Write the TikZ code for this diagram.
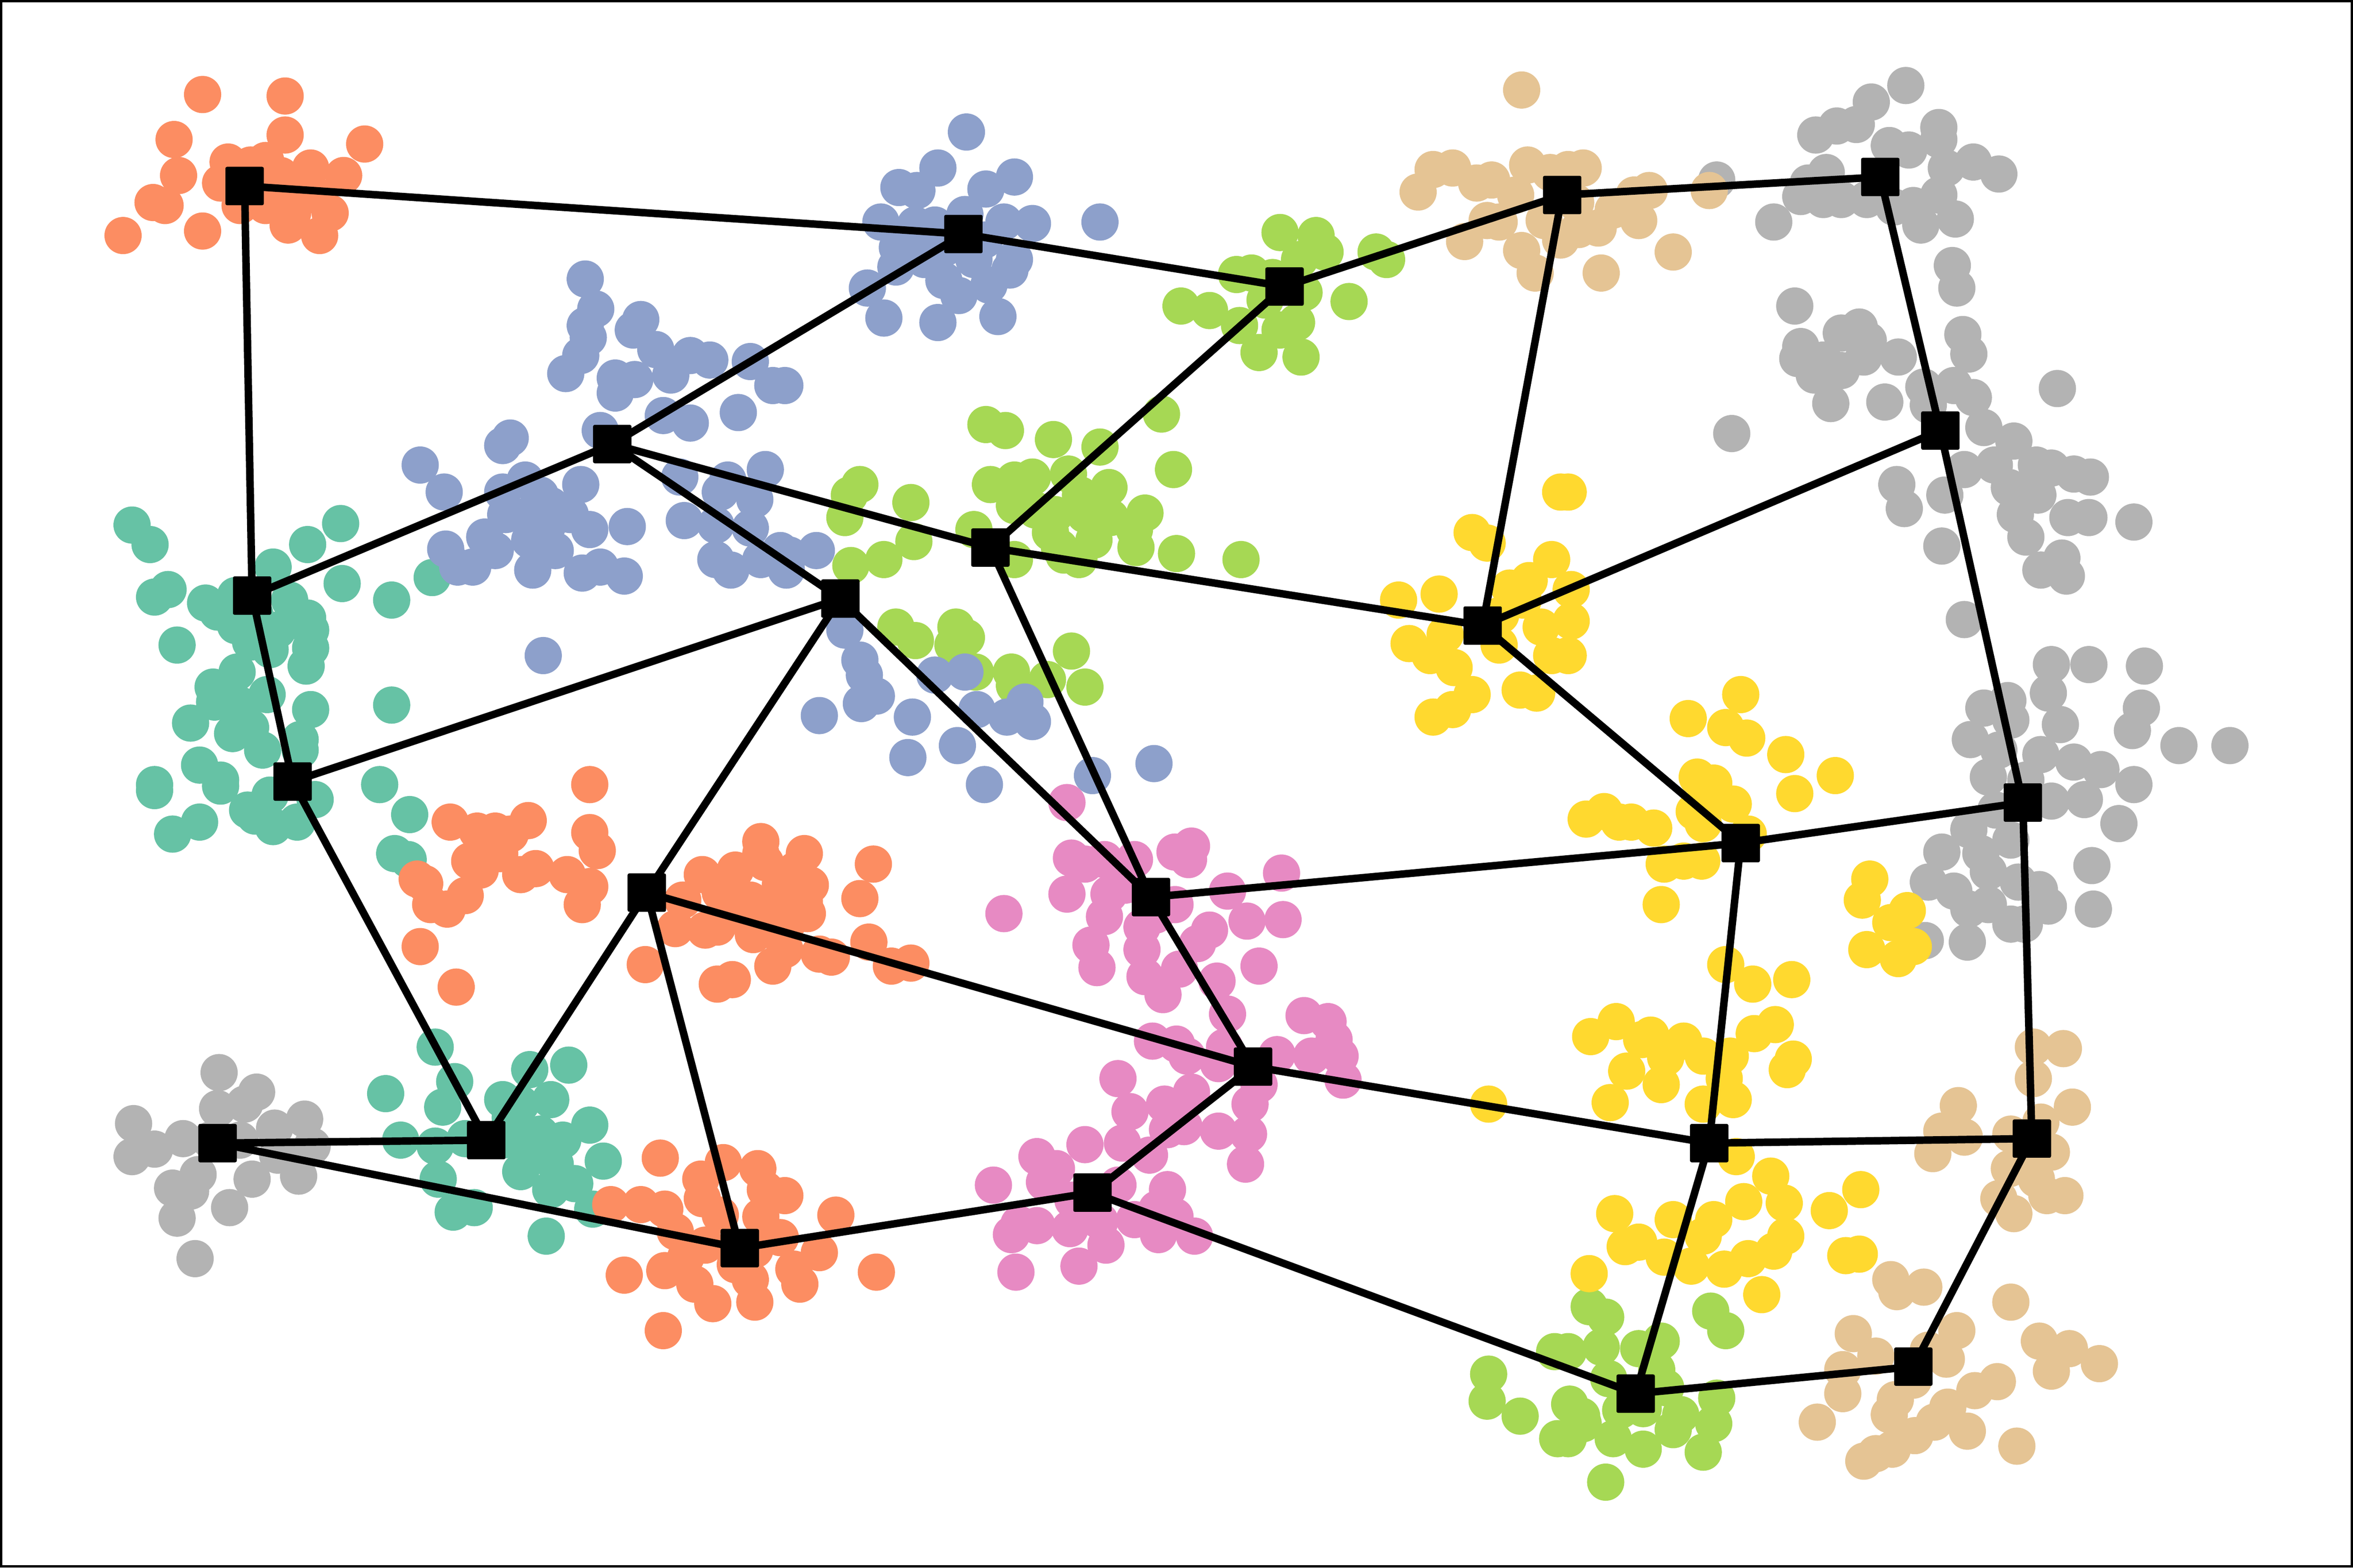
\documentclass[tikz,border=0pt]{standalone}
\usepackage{tikz}
\definecolor{cteal}{HTML}{66C2A5}
\definecolor{corange}{HTML}{FC8D62}
\definecolor{cblue}{HTML}{8DA0CB}
\definecolor{cpink}{HTML}{E78AC3}
\definecolor{cgreen}{HTML}{A6D854}
\definecolor{cyellow}{HTML}{FFD92F}
\definecolor{ctan}{HTML}{E5C494}
\definecolor{cgray}{HTML}{B3B3B3}
\tikzset{
  sq/.style={fill=black, draw=none, minimum size=0.255cm, inner sep=0pt, outer sep=0pt, rounded corners=0.3pt},
  edge/.style={draw=black, line width=0.05cm, line cap=butt},
}
\newcommand{\clusterdots}[2]{\foreach \x/\y in {#2} \fill[#1] (\x,\y) circle[radius=0.124cm];}
\begin{document}
\begin{tikzpicture}[x=0.01cm,y=-0.01cm]
\useasboundingbox (0,0) rectangle (1568,1045);
\fill[white] (0,0) rectangle (1568,1045);
% gray clusters
\clusterdots{cgray}{146/715,171/728,163/736,145/739,89/749,88/771,103/766,122/759,183/752,203/746,208/764,199/784,168/786,132/783,115/792,127/794,153/805,118/812,130/839,140/760,160/760,185/770}
\clusterdots{cgray}{1144/120,1270/57,1247/68,1237/83,1224/84,1210/90,1292/85,1292/93,1259/97,1272/100,1315/108,1332/116,1297/112,1217/115,1205/122,1200/131,1215/133,1227/133,1244/133,1292/130,1275/137,1262/138,1303/146,1280/150,1182/148,1301/177,1304/192,1196/204,1308/223,1312/236,1239/218,1227/222,1245/227,1200/231,1198/239,1215/240,1227/247,1242/238,1209/250,1220/269,1256/268,1265/238,1371/259,1154/289,1282/258,1302/257,1315/265,1285/270,1322/285,1342/294,1329/310,1357/310,1367/312,1382/316,1393/318,1339/325,1358/330,1378/345,1392/345,1422/348,1343/343,1350/358,1374/372,1360/380,1377/384,1264/323,1269/339,1296/330,1309/313,1294/364,1309/413,1367/443,1392/443,1429/444,1365/462,1338/467,1322/472,1373/483,1427/472,1421/487,1452/497,1486/497,1313/493,1332/500,1360/503,1382/508,1400/513,1325/518,1422/523,1340/480,1350/520,1367/534,1389/533,1412/549,1312/553,1294/568,1320/569,1285/588,1302/594,1325/581,1345/588,1359/593,1365/604,1312/606,1325/603,1340/616,1349/616,1283/627,1311/628,1394/577,1395/606,1340/560,1330/540}
% tan clusters
\clusterdots{ctan}{1014/60,955/113,968/112,984/122,994/120,1018/110,1033/115,945/128,976/161,991/147,999/148,1014/167,1023/182,1029/147,1045/113,1055/112,1089/130,1099/127,1092/147,1065/152,1052/153,1067/182,1115/168,1139/127,1010/130,1050/135,1075/140,1040/160}
\clusterdots{ctan}{1355/698,1375/699,1355/719,1381/738,1360/748,1305/737,1294/754,1309/758,1288/769,1340/756,1367/768,1339/779,1357/786,1332/799,1364/797,1376/797,1342/809,1350/770}
\clusterdots{ctan}{1260/853,1264/861,1282/858,1340/868,1235/889,1304/887,1250/904,1228/913,1297/906,1359/894,1379/899,1399/909,1367/914,1331/921,1316/927,1228/929,1263/933,1298/938,1259/943,1289/948,1211/948,1311/954,1276/957,1261/966,1250/969,1242/974,1344/964,1275/920,1285/900}
% teal
\clusterdots{cteal}{88/350,100/363,227/349,205/363,182/378,228/389,261/400,288/385,103/398,112/393,137/402,145/408,157/397,193/400,205/412,207/420,207/432,204/444,157/417,167/428,180/433,118/430,158/448,142/458,143/468,127/482,178/463,207/473,261/470,155/489,167/485,175/500,200/493,200/500,133/510,147/520,103/523,253/523,103/527,147/524,115/556,133/548,170/544,182/551,198/548,210/533,273/543,263/569,272/573,170/410,185/420,160/470,180/530,165/540}
\clusterdots{cteal}{290/698,303/721,295/738,257/729,353/713,379/710,335/733,347/736,367/733,393/750,402/774,267/760,290/764,310/759,292/786,302/808,316/805,343/756,360/756,370/776,347/781,367/793,383/789,395/806,364/824,335/760,355/770,340/745,375/760}
% orange
\clusterdots{corange}{135/63,190/64,116/93,190/90,243/96,152/108,119/117,207/112,229/117,177/107,147/122,102/135,110/137,82/157,135/154,177/137,192/150,213/157,220/142,200/127,187/117,167/110,190/130,210/130,175/127,195/142,160/137}
\clusterdots{corange}{393/523,300/548,318/554,330/554,340/556,352/547,313/574,333/569,347/583,357/579,378/583,393/555,398/567,393/591,388/603,278/586,283/589,298/606,310/597,287/603,280/631,304/658,320/580}
\clusterdots{corange}{507/561,468/583,490/580,507/569,450/619,430/643,478/618,502/623,515/644,478/656,488/653,536/569,582/576,573/599,536/601,538/609,523/633,546/636,554/638,579/628,594/644,607/642,510/575,530/580,520/600,500/600,455/600,470/620,490/610,510/615,520/590,540/590,525/615,480/595}
\clusterdots{corange}{440/772,482/775,505/779,467/786,468/799,407/803,427/803,443/806,450/821,457/838,510/793,507/811,503/833,490/843,500/853,443/847,463/856,475/869,503/868,416/850,442/887,523/797,557/810,546/835,533/856,584/848,529/846,480/810,470/830,520/825}
% green
\clusterdots{cgreen}{853/155,877/157,883/168,917/168,924/173,824/183,834/182,866/173,869/195,899/201,787/204,806/207,843/200,826/217,864/215,839/235,867/238,853/220,848/185}
\clusterdots{cgreen}{657/283,670/287,702/293,733/298,774/276,782/313,573/323,566/330,607/335,563/345,660/323,676/320,688/318,712/316,739/325,676/337,703/343,723/343,763/342,756/353,729/360,706/365,649/353,609/361,589/373,567/377,676/373,709/370,719/373,757/365,784/369,827/373,690/340,720/330,740/345,700/355}
\clusterdots{cgreen}{597/418,610/427,637/418,644/425,650/448,674/448,676/457,698/453,714/434,723/458,635/430}
\clusterdots{cgreen}{1059/871,1070/878,1045/901,1067/898,1107/894,1092/899,1140/874,1150/887,1072/919,1104/913,1054/944,1045/959,1055/949,1075/959,1095/966,1115/953,1120/943,1142/949,1144/932,1135/968,1070/988,1095/939,1036/901,992/916,991/934,1013/944,1038/959,1046/936,1080/940,1110/925}
% blue
\clusterdots{cblue}{644/88,625/112,676/118,657/126,599/125,611/127,587/148,688/149,669/148,733/148,598/165,597/178,578/192,589/212,625/215,665/211,629/187,639/197,659/190,673/180,676/173,623/150,643/143,656/160,616/173,649/173,630/165,610/150}
\clusterdots{cblue}{390/186,397/206,390/217,392/225,387/237,377/249,427/213,422/220,437/233,460/237,473/240,500/241,515/257,492/275,410/252,410/262,423/253,442/277,460/282,400/287,447/250,340/292,335/297,280/310,296/328,335/328,350/320,387/323,367/337,353/343,337/343,380/343,393/353,418/351,323/358,297/366,305/378,315/378,330/367,353/360,355/380,370/367,388/382,400/378,416/384,362/437,453/318,485/320,510/313,480/328,503/333,456/347,477/350,500/352,477/373,487/380,507/373,520/367,360/330,365/350}
\clusterdots{cblue}{563/420,573/440,576/450,574/469,584/464,546/477,608/478,605/505,623/450,643/448,651/473,638/497,671/478,683/468,688/481,656/523,728/517,769/509,526/370,544/367,523/257,524/380}
% pink
\clusterdots{cpink}{711/535,714/572,723/576,736/573,756/573,783/568,794/564,792/573,711/596,669/609,739/596,736/611,761/618,783/603,818/594,854/582,831/614,855/613,806/620,798/629,727/630,731/645,761/633,786/646,763/651,775/663,811/654,839/644,818/676,869/677,885/681,889/693,893/704,895/720,874/704,851/703,816/698,768/694,784/696,791/704,812/709,839/723,833/736,745/719,794/728,776/736,753/741,778/753,789/751,812/754,832/756,830/776,748/762,723/763,766/770,691/771,704/779,662/790,696/788,778/793,771/806,783/811,756/813,733/814,679/816,691/817,674/823,713/819,772/823,796/824,737/830,677/848,719/844,750/590,770/610,745/790,715/800}
% yellow
\clusterdots{cyellow}{1040/328,981/355,991/362,1034/373,1019/387,1006/392,932/400,959/396,939/429,953/437,969/445,981/463,968/473,955/478,1013/460,1024/462,1027/418,1034/437,999/430,963/423,1045/328,1047/393,1047/414,1045/437,1000/410,1015/400}
\clusterdots{cyellow}{1160/463,1125/479,1150/485,1164/492,1190/503,1223/517,1131/518,1142/522,1196/529,1137/529,1155/536,1129/541,1057/546,1069/541,1079/548,1087/548,1102/552,1135/549,1165/556,1109/576,1122/574,1134/574,1107/603,1246/586,1241/600,1271/607,1260/615,1244/633,1265/639,1275/631}
\clusterdots{cyellow}{992/736,1150/643,1168/656,1194/653,1060/691,1077/681,1094/693,1084/714,1107/723,1122/694,1135/704,1153/704,1149/719,1135/736,1155/733,1073/735,1169/689,1183/683,1195/706,1191/713,1157/771,1180/784,1162/801,1189/802,1076/809,1115/813,1142/813,1219/807,1240/793,1083/831,1092/828,1109/838,1127/844,1149/846,1165/839,1182/834,1190/824,1135/824,1059/849,1174/863,1230/837,1239/836,1110/705,1100/690}
% frame
\draw[black, line width=0.016cm] (0.8,0.8) rectangle (1567.2,1044.2);
% graph nodes
\node[sq] (A) at (163,124) {};
\node[sq] (B) at (642,156) {};
\node[sq] (C) at (856,191) {};
\node[sq] (D) at (1041,130) {};
\node[sq] (E) at (1253,118) {};
\node[sq] (F) at (408,296) {};
\node[sq] (G) at (660,365) {};
\node[sq] (H) at (1293,287) {};
\node[sq] (I) at (168,397) {};
\node[sq] (J) at (560,399) {};
\node[sq] (K) at (988,417) {};
\node[sq] (L) at (195,521) {};
\node[sq] (M) at (1160,562) {};
\node[sq] (N) at (1348,535) {};
\node[sq] (O) at (431,595) {};
\node[sq] (P) at (767,598) {};
\node[sq] (Q) at (835,711) {};
\node[sq] (R) at (145,762) {};
\node[sq] (S) at (324,760) {};
\node[sq] (T) at (1139,762) {};
\node[sq] (U) at (1354,759) {};
\node[sq] (V) at (728,795) {};
\node[sq] (W) at (493,832) {};
\node[sq] (X) at (1275,911) {};
\node[sq] (Y) at (1090,929) {};
% edges
\foreach \a/\b in {A/B,A/I,B/C,B/F,C/D,C/G,D/E,D/K,E/H,F/I,F/J,F/G,G/K,G/P,H/K,H/N,I/L,J/L,J/O,J/P,K/M,L/S,M/N,M/T,P/M,N/U,O/S,O/W,O/Q,P/Q,Q/V,Q/T,R/S,R/W,T/U,T/Y,U/X,X/Y,V/W,V/Y}
  \draw[edge] (\a.center) -- (\b.center);
% squares on top of the connectors
\foreach \n in {A,B,C,D,E,F,G,H,I,J,K,L,M,N,O,P,Q,R,S,T,U,V,W,X,Y}
  \fill[black, rounded corners=0.3pt] ([shift={(-0.1275cm,-0.1275cm)}]\n.center) rectangle ([shift={(0.1275cm,0.1275cm)}]\n.center);
\end{tikzpicture}
\end{document}
